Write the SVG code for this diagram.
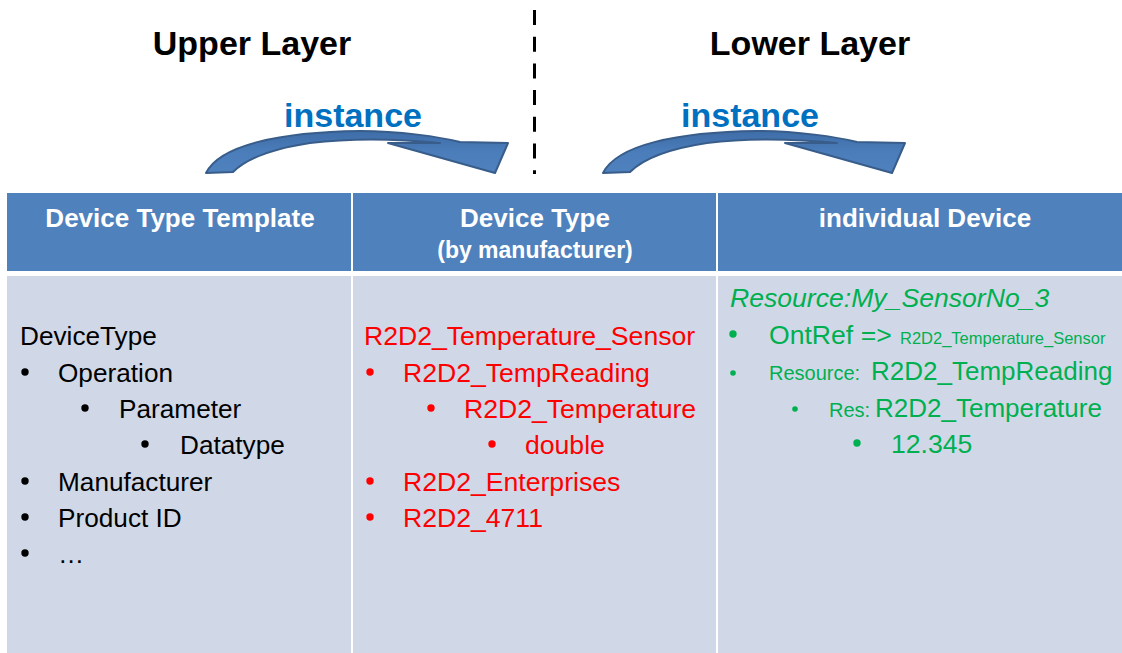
<svg xmlns="http://www.w3.org/2000/svg" width="1122" height="653" viewBox="0 0 1122 653">
<style>
.t{font-family:"Liberation Sans",Arial,sans-serif}
.title{font-size:34px;font-weight:bold;fill:#000;text-anchor:middle}
.inst{font-size:34px;font-weight:bold;fill:#0070C0;text-anchor:middle}
.hd{font-size:26px;font-weight:bold;fill:#fff;text-anchor:middle}
.b{font-size:26.2px;fill:#000}
.r{font-size:26.6px;fill:#FF0000}
.g{font-size:26.6px;fill:#00B050}
.gs{font-size:20px;fill:#00B050}
.gx{font-size:16.5px;fill:#00B050}
.arrow{fill:url(#ag);stroke:#385D8A;stroke-width:2;stroke-linejoin:round}
</style>
<defs>
<linearGradient id="ag" x1="0" y1="0" x2="0" y2="1">
<stop offset="0" stop-color="#3F6DA8"/>
<stop offset="0.5" stop-color="#4A7DBA"/>
<stop offset="1" stop-color="#4F81BD"/>
</linearGradient>
<path id="carrow" class="arrow" d="M 206,173 C 220,145 280,132 360,131 C 400,131 440,137 460,142 L 508,143 L 495,173 L 388,143 L 440,143 C 400,139 350,138 310,143 C 270,149 245,160 233,172 Z"/>
</defs>
<rect width="1122" height="653" fill="#fff"/>

<g id="titles">
<text class="t title" x="252" y="55">Upper Layer</text>
<text class="t title" x="810" y="55">Lower Layer</text>
</g>

<g id="divider">
<line x1="534.5" y1="10" x2="534.5" y2="174" stroke="#000" stroke-width="3" stroke-dasharray="15 11.7"/>
</g>

<g id="connectors">
<use href="#carrow"/>
<use href="#carrow" transform="translate(397,0)"/>
<text class="t inst" x="353" y="127">instance</text>
<text class="t inst" x="750" y="127">instance</text>
</g>

<g id="table">
<rect x="7" y="193" width="1115" height="78" fill="#4F81BD"/>
<rect x="7" y="276" width="1115" height="377" fill="#D0D8E8"/>
<line x1="352" y1="193" x2="352" y2="653" stroke="#fff" stroke-width="2"/>
<line x1="717" y1="193" x2="717" y2="653" stroke="#fff" stroke-width="2"/>
</g>

<g id="col1">
<text class="t hd" x="180" y="227">Device Type Template</text>
<text class="t b" x="20" y="345">DeviceType</text>
<g fill="#000">
<circle cx="25" cy="372" r="3.7"/>
<circle cx="85" cy="408" r="3.7"/>
<circle cx="145" cy="444" r="3.7"/>
<circle cx="25" cy="481" r="3.7"/>
<circle cx="25" cy="517" r="3.7"/>
<circle cx="25" cy="553" r="3.7"/>
</g>
<text class="t b" x="58" y="382">Operation</text>
<text class="t b" x="119" y="418">Parameter</text>
<text class="t b" x="180" y="454">Datatype</text>
<text class="t b" x="58" y="491">Manufacturer</text>
<text class="t b" x="58" y="527">Product ID</text>
<text class="t b" x="58" y="563">…</text>
</g>

<g id="col2">
<text class="t hd" x="535" y="227">Device Type</text>
<text class="t hd" x="535" y="258" style="font-size:23px">(by manufacturer)</text>
<text class="t r" x="364" y="345">R2D2_Temperature_Sensor</text>
<g fill="#FF0000">
<circle cx="370" cy="372" r="3.7"/>
<circle cx="431" cy="408" r="3.7"/>
<circle cx="492" cy="444" r="3.7"/>
<circle cx="370" cy="481" r="3.7"/>
<circle cx="370" cy="517" r="3.7"/>
</g>
<text class="t r" x="403" y="382">R2D2_TempReading</text>
<text class="t r" x="464" y="418">R2D2_Temperature</text>
<text class="t r" x="525" y="454">double</text>
<text class="t r" x="403" y="491">R2D2_Enterprises</text>
<text class="t r" x="403" y="527">R2D2_4711</text>
</g>

<g id="col3">
<text class="t hd" x="925" y="227">individual Device</text>
<text class="t g" x="730" y="307" font-style="italic">Resource:My_SensorNo_3</text>
<g fill="#00B050">
<circle cx="733" cy="334" r="3.7"/>
<circle cx="733" cy="373" r="2.8"/>
<circle cx="795" cy="409" r="2.8"/>
<circle cx="857" cy="443" r="3.7"/>
</g>
<text class="t g" x="769" y="344">OntRef =&gt; <tspan class="gx" x="900">R2D2_Temperature_Sensor</tspan></text>
<text class="t gs" x="769" y="380">Resource: <tspan style="font-size:26px" x="871">R2D2_TempReading</tspan></text>
<text class="t gs" x="829" y="417">Res: <tspan style="font-size:26px" x="875">R2D2_Temperature</tspan></text>
<text class="t g" x="891" y="453">12.345</text>
</g>
</svg>
